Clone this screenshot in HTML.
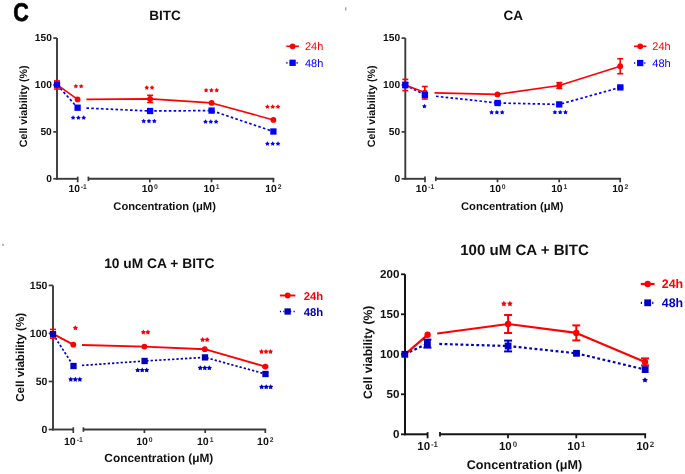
<!DOCTYPE html>
<html><head><meta charset="utf-8"><style>
html,body{margin:0;padding:0;background:#fff;width:685px;height:474px;overflow:hidden}
svg{display:block;filter:blur(0.45px);font-family:"Liberation Sans",sans-serif;text-rendering:geometricPrecision}
</style></head><body>
<svg width="685" height="474" viewBox="0 0 685 474">
<rect width="685" height="474" fill="#fff"/>
<text x="21.1" y="20.8" font-size="25.6" font-weight="bold" fill="#000" stroke="#000" stroke-width="0.7" text-anchor="middle" transform="translate(21.1 0) scale(0.84 1) translate(-21.1 0)">C</text>
<rect x="345.3" y="7.3" width="1" height="3.2" fill="#777"/>
<rect x="2.1" y="243.9" width="1.9" height="1.9" fill="#aaa"/>
<line x1="57.00" y1="38.10" x2="57.00" y2="179.75" stroke="#3a3a3a" stroke-width="1.90" />
<line x1="53.30" y1="178.80" x2="57.00" y2="178.80" stroke="#3a3a3a" stroke-width="1.71" />
<text x="51.80" y="181.70" font-size="10.20" font-weight="bold" fill="#111" text-anchor="end" >0</text>
<line x1="53.30" y1="131.90" x2="57.00" y2="131.90" stroke="#3a3a3a" stroke-width="1.71" />
<text x="51.80" y="134.80" font-size="10.20" font-weight="bold" fill="#111" text-anchor="end" >50</text>
<line x1="53.30" y1="85.00" x2="57.00" y2="85.00" stroke="#3a3a3a" stroke-width="1.71" />
<text x="51.80" y="87.90" font-size="10.20" font-weight="bold" fill="#111" text-anchor="end" >100</text>
<line x1="53.30" y1="38.10" x2="57.00" y2="38.10" stroke="#3a3a3a" stroke-width="1.71" />
<text x="51.80" y="41.00" font-size="10.20" font-weight="bold" fill="#111" text-anchor="end" >150</text>
<line x1="56.05" y1="178.80" x2="77.70" y2="178.80" stroke="#3a3a3a" stroke-width="1.90" />
<line x1="77.70" y1="176.60" x2="77.70" y2="182.30" stroke="#3a3a3a" stroke-width="1.71" />
<line x1="88.40" y1="178.80" x2="274.25" y2="178.80" stroke="#3a3a3a" stroke-width="1.90" />
<line x1="88.40" y1="176.60" x2="88.40" y2="181.10" stroke="#3a3a3a" stroke-width="1.71" />
<line x1="149.80" y1="178.80" x2="149.80" y2="182.30" stroke="#3a3a3a" stroke-width="1.71" />
<line x1="211.50" y1="178.80" x2="211.50" y2="182.30" stroke="#3a3a3a" stroke-width="1.71" />
<line x1="273.40" y1="178.80" x2="273.40" y2="182.30" stroke="#3a3a3a" stroke-width="1.71" />
<text x="77.70" y="191.80" font-size="10.30" font-weight="bold" fill="#111" text-anchor="middle">10<tspan dx="0.90" dy="-2.90" font-size="6.80" fill="#333">-1</tspan></text>
<text x="149.80" y="191.80" font-size="10.30" font-weight="bold" fill="#111" text-anchor="middle">10<tspan dx="0.90" dy="-2.90" font-size="6.80" fill="#333">0</tspan></text>
<text x="211.50" y="191.80" font-size="10.30" font-weight="bold" fill="#111" text-anchor="middle">10<tspan dx="0.90" dy="-2.90" font-size="6.80" fill="#333">1</tspan></text>
<text x="273.40" y="191.80" font-size="10.30" font-weight="bold" fill="#111" text-anchor="middle">10<tspan dx="0.90" dy="-2.90" font-size="6.80" fill="#333">2</tspan></text>
<text x="165.00" y="20.40" font-size="13.50" font-weight="bold" fill="#111" text-anchor="middle" >BITC</text>
<text x="0" y="0" font-size="10.70" font-weight="bold" fill="#111" text-anchor="middle" transform="translate(26.80 106.30) rotate(-90)">Cell viability (%)</text>
<text x="164.60" y="209.70" font-size="11.20" font-weight="bold" fill="#111" text-anchor="middle" >Concentration (&#956;M)</text>
<line x1="57.00" y1="84.70" x2="77.60" y2="107.70" stroke="#0000ff" stroke-width="1.70" stroke-dasharray="2.6 2.25"/>
<path d="M86.40 108.10 L150.10 111.00 L211.60 110.60 L273.40 131.50" fill="none" stroke="#0000ff" stroke-width="1.70" stroke-linejoin="round" stroke-dasharray="2.6 2.25"/>
<line x1="57.00" y1="84.70" x2="77.60" y2="99.40" stroke="#ff0000" stroke-width="1.60" />
<path d="M86.40 99.34 L150.10 98.90 L211.60 102.90 L273.40 119.90" fill="none" stroke="#ff0000" stroke-width="1.60" stroke-linejoin="round" />
<line x1="57.00" y1="80.90" x2="57.00" y2="89.00" stroke="#ff0000" stroke-width="1.60" />
<line x1="54.00" y1="80.90" x2="60.00" y2="80.90" stroke="#ff0000" stroke-width="1.60" />
<line x1="54.00" y1="89.00" x2="60.00" y2="89.00" stroke="#ff0000" stroke-width="1.60" />
<circle cx="57.00" cy="84.70" r="2.90" fill="#ff0000"/>
<circle cx="77.60" cy="99.40" r="2.90" fill="#ff0000"/>
<line x1="150.10" y1="95.30" x2="150.10" y2="102.50" stroke="#ff0000" stroke-width="1.60" />
<line x1="147.10" y1="95.30" x2="153.10" y2="95.30" stroke="#ff0000" stroke-width="1.60" />
<line x1="147.10" y1="102.50" x2="153.10" y2="102.50" stroke="#ff0000" stroke-width="1.60" />
<circle cx="150.10" cy="98.90" r="2.90" fill="#ff0000"/>
<circle cx="211.60" cy="102.90" r="2.90" fill="#ff0000"/>
<circle cx="273.40" cy="119.90" r="2.90" fill="#ff0000"/>
<rect x="53.85" y="81.55" width="6.30" height="6.30" fill="#0000ff"/>
<rect x="74.45" y="104.55" width="6.30" height="6.30" fill="#0000ff"/>
<rect x="146.95" y="107.85" width="6.30" height="6.30" fill="#0000ff"/>
<rect x="208.45" y="107.45" width="6.30" height="6.30" fill="#0000ff"/>
<rect x="270.25" y="128.35" width="6.30" height="6.30" fill="#0000ff"/>
<g fill="#ff0000"><polygon points="75.85,83.75 76.66,85.14 78.23,85.48 77.16,86.67 77.32,88.27 75.85,87.62 74.38,88.27 74.54,86.67 73.47,85.48 75.04,85.14"/><polygon points="81.15,83.75 81.96,85.14 83.53,85.48 82.46,86.67 82.62,88.27 81.15,87.62 79.68,88.27 79.84,86.67 78.77,85.48 80.34,85.14"/></g>
<g fill="#ff0000"><polygon points="146.75,85.15 147.56,86.54 149.13,86.88 148.06,88.07 148.22,89.67 146.75,89.03 145.28,89.67 145.44,88.07 144.37,86.88 145.94,86.54"/><polygon points="152.05,85.15 152.86,86.54 154.43,86.88 153.36,88.07 153.52,89.67 152.05,89.03 150.58,89.67 150.74,88.07 149.67,86.88 151.24,86.54"/></g>
<g fill="#ff0000"><polygon points="206.10,87.85 206.91,89.24 208.48,89.58 207.41,90.77 207.57,92.37 206.10,91.73 204.63,92.37 204.79,90.77 203.72,89.58 205.29,89.24"/><polygon points="211.40,87.85 212.21,89.24 213.78,89.58 212.71,90.77 212.87,92.37 211.40,91.73 209.93,92.37 210.09,90.77 209.02,89.58 210.59,89.24"/><polygon points="216.70,87.85 217.51,89.24 219.08,89.58 218.01,90.77 218.17,92.37 216.70,91.73 215.23,92.37 215.39,90.77 214.32,89.58 215.89,89.24"/></g>
<g fill="#ff0000"><polygon points="267.40,104.25 268.21,105.64 269.78,105.98 268.71,107.17 268.87,108.77 267.40,108.12 265.93,108.77 266.09,107.17 265.02,105.98 266.59,105.64"/><polygon points="272.70,104.25 273.51,105.64 275.08,105.98 274.01,107.17 274.17,108.77 272.70,108.12 271.23,108.77 271.39,107.17 270.32,105.98 271.89,105.64"/><polygon points="278.00,104.25 278.81,105.64 280.38,105.98 279.31,107.17 279.47,108.77 278.00,108.12 276.53,108.77 276.69,107.17 275.62,105.98 277.19,105.64"/></g>
<g fill="#0000ff"><polygon points="73.10,115.25 73.91,116.64 75.48,116.98 74.41,118.17 74.57,119.77 73.10,119.12 71.63,119.77 71.79,118.17 70.72,116.98 72.29,116.64"/><polygon points="78.40,115.25 79.21,116.64 80.78,116.98 79.71,118.17 79.87,119.77 78.40,119.12 76.93,119.77 77.09,118.17 76.02,116.98 77.59,116.64"/><polygon points="83.70,115.25 84.51,116.64 86.08,116.98 85.01,118.17 85.17,119.77 83.70,119.12 82.23,119.77 82.39,118.17 81.32,116.98 82.89,116.64"/></g>
<g fill="#0000ff"><polygon points="143.70,118.65 144.51,120.04 146.08,120.38 145.01,121.57 145.17,123.17 143.70,122.53 142.23,123.17 142.39,121.57 141.32,120.38 142.89,120.04"/><polygon points="149.00,118.65 149.81,120.04 151.38,120.38 150.31,121.57 150.47,123.17 149.00,122.53 147.53,123.17 147.69,121.57 146.62,120.38 148.19,120.04"/><polygon points="154.30,118.65 155.11,120.04 156.68,120.38 155.61,121.57 155.77,123.17 154.30,122.53 152.83,123.17 152.99,121.57 151.92,120.38 153.49,120.04"/></g>
<g fill="#0000ff"><polygon points="205.50,119.25 206.31,120.64 207.88,120.98 206.81,122.17 206.97,123.77 205.50,123.12 204.03,123.77 204.19,122.17 203.12,120.98 204.69,120.64"/><polygon points="210.80,119.25 211.61,120.64 213.18,120.98 212.11,122.17 212.27,123.77 210.80,123.12 209.33,123.77 209.49,122.17 208.42,120.98 209.99,120.64"/><polygon points="216.10,119.25 216.91,120.64 218.48,120.98 217.41,122.17 217.57,123.77 216.10,123.12 214.63,123.77 214.79,122.17 213.72,120.98 215.29,120.64"/></g>
<g fill="#0000ff"><polygon points="267.40,141.25 268.21,142.64 269.78,142.98 268.71,144.17 268.87,145.77 267.40,145.12 265.93,145.77 266.09,144.17 265.02,142.98 266.59,142.64"/><polygon points="272.70,141.25 273.51,142.64 275.08,142.98 274.01,144.17 274.17,145.77 272.70,145.12 271.23,145.77 271.39,144.17 270.32,142.98 271.89,142.64"/><polygon points="278.00,141.25 278.81,142.64 280.38,142.98 279.31,144.17 279.47,145.77 278.00,145.12 276.53,145.77 276.69,144.17 275.62,142.98 277.19,142.64"/></g>
<line x1="286.30" y1="46.30" x2="298.90" y2="46.30" stroke="#ff0000" stroke-width="1.60" />
<circle cx="292.60" cy="46.30" r="2.90" fill="#ff0000"/>
<text x="305.00" y="50.30" font-size="11.00" font-weight="normal" fill="#ff0000" text-anchor="start" >24h</text>
<line x1="286.30" y1="62.80" x2="298.90" y2="62.80" stroke="#0000ff" stroke-width="1.70" stroke-dasharray="1.2 2.2"/>
<rect x="289.45" y="59.65" width="6.30" height="6.30" fill="#0000ff"/>
<text x="305.00" y="66.80" font-size="11.00" font-weight="normal" fill="#0000ff" text-anchor="start" >48h</text>
<line x1="405.30" y1="38.10" x2="405.30" y2="179.75" stroke="#3a3a3a" stroke-width="1.90" />
<line x1="401.60" y1="178.80" x2="405.30" y2="178.80" stroke="#3a3a3a" stroke-width="1.71" />
<text x="400.10" y="181.70" font-size="10.20" font-weight="bold" fill="#111" text-anchor="end" >0</text>
<line x1="401.60" y1="131.90" x2="405.30" y2="131.90" stroke="#3a3a3a" stroke-width="1.71" />
<text x="400.10" y="134.80" font-size="10.20" font-weight="bold" fill="#111" text-anchor="end" >50</text>
<line x1="401.60" y1="85.00" x2="405.30" y2="85.00" stroke="#3a3a3a" stroke-width="1.71" />
<text x="400.10" y="87.90" font-size="10.20" font-weight="bold" fill="#111" text-anchor="end" >100</text>
<line x1="401.60" y1="38.10" x2="405.30" y2="38.10" stroke="#3a3a3a" stroke-width="1.71" />
<text x="400.10" y="41.00" font-size="10.20" font-weight="bold" fill="#111" text-anchor="end" >150</text>
<line x1="404.35" y1="178.80" x2="425.00" y2="178.80" stroke="#3a3a3a" stroke-width="1.90" />
<line x1="425.00" y1="176.60" x2="425.00" y2="182.30" stroke="#3a3a3a" stroke-width="1.71" />
<line x1="435.80" y1="178.80" x2="621.06" y2="178.80" stroke="#3a3a3a" stroke-width="1.90" />
<line x1="435.80" y1="176.60" x2="435.80" y2="181.10" stroke="#3a3a3a" stroke-width="1.71" />
<line x1="497.50" y1="178.80" x2="497.50" y2="182.30" stroke="#3a3a3a" stroke-width="1.71" />
<line x1="559.20" y1="178.80" x2="559.20" y2="182.30" stroke="#3a3a3a" stroke-width="1.71" />
<line x1="620.20" y1="178.80" x2="620.20" y2="182.30" stroke="#3a3a3a" stroke-width="1.71" />
<text x="425.00" y="191.80" font-size="10.30" font-weight="bold" fill="#111" text-anchor="middle">10<tspan dx="0.90" dy="-2.90" font-size="6.80" fill="#333">-1</tspan></text>
<text x="497.50" y="191.80" font-size="10.30" font-weight="bold" fill="#111" text-anchor="middle">10<tspan dx="0.90" dy="-2.90" font-size="6.80" fill="#333">0</tspan></text>
<text x="559.20" y="191.80" font-size="10.30" font-weight="bold" fill="#111" text-anchor="middle">10<tspan dx="0.90" dy="-2.90" font-size="6.80" fill="#333">1</tspan></text>
<text x="620.20" y="191.80" font-size="10.30" font-weight="bold" fill="#111" text-anchor="middle">10<tspan dx="0.90" dy="-2.90" font-size="6.80" fill="#333">2</tspan></text>
<text x="513.20" y="20.40" font-size="13.50" font-weight="bold" fill="#111" text-anchor="middle" >CA</text>
<text x="0" y="0" font-size="10.70" font-weight="bold" fill="#111" text-anchor="middle" transform="translate(375.10 106.30) rotate(-90)">Cell viability (%)</text>
<text x="512.30" y="209.70" font-size="11.20" font-weight="bold" fill="#111" text-anchor="middle" >Concentration (&#956;M)</text>
<line x1="405.30" y1="85.00" x2="424.90" y2="95.00" stroke="#0000ff" stroke-width="1.70" stroke-dasharray="2.6 2.25"/>
<path d="M436.00 96.22 L497.60 103.00 L559.20 104.40 L620.30 87.40" fill="none" stroke="#0000ff" stroke-width="1.70" stroke-linejoin="round" stroke-dasharray="2.6 2.25"/>
<line x1="405.30" y1="85.00" x2="424.80" y2="92.60" stroke="#ff0000" stroke-width="1.60" />
<path d="M434.50 92.84 L497.40 94.40 L559.30 85.50 L620.20 66.20" fill="none" stroke="#ff0000" stroke-width="1.60" stroke-linejoin="round" />
<line x1="405.30" y1="79.40" x2="405.30" y2="90.60" stroke="#ff0000" stroke-width="1.60" />
<line x1="402.30" y1="79.40" x2="408.30" y2="79.40" stroke="#ff0000" stroke-width="1.60" />
<line x1="402.30" y1="90.60" x2="408.30" y2="90.60" stroke="#ff0000" stroke-width="1.60" />
<circle cx="405.30" cy="85.00" r="2.90" fill="#ff0000"/>
<line x1="424.80" y1="86.50" x2="424.80" y2="99.00" stroke="#ff0000" stroke-width="1.60" />
<line x1="421.80" y1="86.50" x2="427.80" y2="86.50" stroke="#ff0000" stroke-width="1.60" />
<line x1="421.80" y1="99.00" x2="427.80" y2="99.00" stroke="#ff0000" stroke-width="1.60" />
<circle cx="424.80" cy="92.60" r="2.90" fill="#ff0000"/>
<circle cx="497.40" cy="94.40" r="2.90" fill="#ff0000"/>
<line x1="559.30" y1="82.60" x2="559.30" y2="88.40" stroke="#ff0000" stroke-width="1.60" />
<line x1="556.30" y1="82.60" x2="562.30" y2="82.60" stroke="#ff0000" stroke-width="1.60" />
<line x1="556.30" y1="88.40" x2="562.30" y2="88.40" stroke="#ff0000" stroke-width="1.60" />
<circle cx="559.30" cy="85.50" r="2.90" fill="#ff0000"/>
<line x1="620.20" y1="58.70" x2="620.20" y2="73.70" stroke="#ff0000" stroke-width="1.60" />
<line x1="617.20" y1="58.70" x2="623.20" y2="58.70" stroke="#ff0000" stroke-width="1.60" />
<line x1="617.20" y1="73.70" x2="623.20" y2="73.70" stroke="#ff0000" stroke-width="1.60" />
<circle cx="620.20" cy="66.20" r="2.90" fill="#ff0000"/>
<line x1="405.30" y1="82.50" x2="405.30" y2="87.50" stroke="#0000ff" stroke-width="1.60" />
<line x1="402.30" y1="82.50" x2="408.30" y2="82.50" stroke="#0000ff" stroke-width="1.60" />
<line x1="402.30" y1="87.50" x2="408.30" y2="87.50" stroke="#0000ff" stroke-width="1.60" />
<rect x="402.15" y="81.85" width="6.30" height="6.30" fill="#0000ff"/>
<line x1="424.90" y1="94.00" x2="424.90" y2="96.00" stroke="#0000ff" stroke-width="1.60" />
<line x1="421.90" y1="94.00" x2="427.90" y2="94.00" stroke="#0000ff" stroke-width="1.60" />
<line x1="421.90" y1="96.00" x2="427.90" y2="96.00" stroke="#0000ff" stroke-width="1.60" />
<rect x="421.75" y="91.85" width="6.30" height="6.30" fill="#0000ff"/>
<line x1="497.60" y1="102.00" x2="497.60" y2="104.00" stroke="#0000ff" stroke-width="1.60" />
<line x1="494.60" y1="102.00" x2="500.60" y2="102.00" stroke="#0000ff" stroke-width="1.60" />
<line x1="494.60" y1="104.00" x2="500.60" y2="104.00" stroke="#0000ff" stroke-width="1.60" />
<rect x="494.45" y="99.85" width="6.30" height="6.30" fill="#0000ff"/>
<rect x="556.05" y="101.25" width="6.30" height="6.30" fill="#0000ff"/>
<line x1="620.30" y1="86.40" x2="620.30" y2="88.40" stroke="#0000ff" stroke-width="1.60" />
<line x1="617.30" y1="86.40" x2="623.30" y2="86.40" stroke="#0000ff" stroke-width="1.60" />
<line x1="617.30" y1="88.40" x2="623.30" y2="88.40" stroke="#0000ff" stroke-width="1.60" />
<rect x="617.15" y="84.25" width="6.30" height="6.30" fill="#0000ff"/>
<g fill="#0000ff"><polygon points="424.40,103.85 425.21,105.24 426.78,105.58 425.71,106.77 425.87,108.37 424.40,107.73 422.93,108.37 423.09,106.77 422.02,105.58 423.59,105.24"/></g>
<g fill="#0000ff"><polygon points="491.60,109.95 492.41,111.34 493.98,111.68 492.91,112.87 493.07,114.47 491.60,113.83 490.13,114.47 490.29,112.87 489.22,111.68 490.79,111.34"/><polygon points="496.90,109.95 497.71,111.34 499.28,111.68 498.21,112.87 498.37,114.47 496.90,113.83 495.43,114.47 495.59,112.87 494.52,111.68 496.09,111.34"/><polygon points="502.20,109.95 503.01,111.34 504.58,111.68 503.51,112.87 503.67,114.47 502.20,113.83 500.73,114.47 500.89,112.87 499.82,111.68 501.39,111.34"/></g>
<g fill="#0000ff"><polygon points="554.90,109.85 555.71,111.24 557.28,111.58 556.21,112.77 556.37,114.37 554.90,113.73 553.43,114.37 553.59,112.77 552.52,111.58 554.09,111.24"/><polygon points="560.20,109.85 561.01,111.24 562.58,111.58 561.51,112.77 561.67,114.37 560.20,113.73 558.73,114.37 558.89,112.77 557.82,111.58 559.39,111.24"/><polygon points="565.50,109.85 566.31,111.24 567.88,111.58 566.81,112.77 566.97,114.37 565.50,113.73 564.03,114.37 564.19,112.77 563.12,111.58 564.69,111.24"/></g>
<line x1="634.00" y1="46.30" x2="646.40" y2="46.30" stroke="#ff0000" stroke-width="1.60" />
<circle cx="640.20" cy="46.30" r="2.90" fill="#ff0000"/>
<text x="652.30" y="50.30" font-size="11.00" font-weight="normal" fill="#ff0000" text-anchor="start" >24h</text>
<line x1="634.00" y1="63.00" x2="646.40" y2="63.00" stroke="#0000ff" stroke-width="1.70" stroke-dasharray="1.2 2.2"/>
<rect x="637.05" y="59.85" width="6.30" height="6.30" fill="#0000ff"/>
<text x="652.30" y="67.00" font-size="11.00" font-weight="normal" fill="#0000ff" text-anchor="start" >48h</text>
<line x1="53.00" y1="285.40" x2="53.00" y2="430.45" stroke="#3a3a3a" stroke-width="1.90" />
<line x1="48.70" y1="429.50" x2="53.00" y2="429.50" stroke="#3a3a3a" stroke-width="1.71" />
<text x="47.40" y="432.80" font-size="10.50" font-weight="bold" fill="#111" text-anchor="end" >0</text>
<line x1="48.70" y1="381.47" x2="53.00" y2="381.47" stroke="#3a3a3a" stroke-width="1.71" />
<text x="47.40" y="384.77" font-size="10.50" font-weight="bold" fill="#111" text-anchor="end" >50</text>
<line x1="48.70" y1="333.43" x2="53.00" y2="333.43" stroke="#3a3a3a" stroke-width="1.71" />
<text x="47.40" y="336.73" font-size="10.50" font-weight="bold" fill="#111" text-anchor="end" >100</text>
<line x1="48.70" y1="285.40" x2="53.00" y2="285.40" stroke="#3a3a3a" stroke-width="1.71" />
<text x="47.40" y="288.70" font-size="10.50" font-weight="bold" fill="#111" text-anchor="end" >150</text>
<line x1="52.05" y1="429.50" x2="73.30" y2="429.50" stroke="#3a3a3a" stroke-width="1.90" />
<line x1="73.30" y1="427.30" x2="73.30" y2="433.00" stroke="#3a3a3a" stroke-width="1.71" />
<line x1="83.40" y1="429.50" x2="266.16" y2="429.50" stroke="#3a3a3a" stroke-width="1.90" />
<line x1="83.40" y1="427.30" x2="83.40" y2="431.80" stroke="#3a3a3a" stroke-width="1.71" />
<line x1="144.40" y1="429.50" x2="144.40" y2="433.00" stroke="#3a3a3a" stroke-width="1.71" />
<line x1="205.20" y1="429.50" x2="205.20" y2="433.00" stroke="#3a3a3a" stroke-width="1.71" />
<line x1="265.30" y1="429.50" x2="265.30" y2="433.00" stroke="#3a3a3a" stroke-width="1.71" />
<text x="73.30" y="444.70" font-size="10.60" font-weight="bold" fill="#111" text-anchor="middle">10<tspan dx="0.90" dy="-2.90" font-size="6.80" fill="#333">-1</tspan></text>
<text x="144.40" y="444.70" font-size="10.60" font-weight="bold" fill="#111" text-anchor="middle">10<tspan dx="0.90" dy="-2.90" font-size="6.80" fill="#333">0</tspan></text>
<text x="205.20" y="444.70" font-size="10.60" font-weight="bold" fill="#111" text-anchor="middle">10<tspan dx="0.90" dy="-2.90" font-size="6.80" fill="#333">1</tspan></text>
<text x="265.30" y="444.70" font-size="10.60" font-weight="bold" fill="#111" text-anchor="middle">10<tspan dx="0.90" dy="-2.90" font-size="6.80" fill="#333">2</tspan></text>
<text x="159.30" y="268.10" font-size="13.80" font-weight="bold" fill="#111" text-anchor="middle" >10 uM CA + BITC</text>
<text x="0" y="0" font-size="11.60" font-weight="bold" fill="#111" text-anchor="middle" transform="translate(23.60 357.30) rotate(-90)">Cell viability (%)</text>
<text x="158.80" y="462.40" font-size="11.90" font-weight="bold" fill="#111" text-anchor="middle" >Concentration (&#956;M)</text>
<line x1="53.00" y1="334.20" x2="73.50" y2="366.00" stroke="#0000c0" stroke-width="1.70" stroke-dasharray="2.3 2.0"/>
<path d="M82.00 365.40 L144.60 361.00 L205.00 357.40 L265.50 374.00" fill="none" stroke="#0000c0" stroke-width="1.70" stroke-linejoin="round" stroke-dasharray="2.3 2.0"/>
<line x1="53.00" y1="333.80" x2="73.30" y2="344.70" stroke="#ff0000" stroke-width="1.90" />
<path d="M82.00 344.93 L144.40 346.60 L204.80 349.20 L265.30 366.60" fill="none" stroke="#ff0000" stroke-width="1.90" stroke-linejoin="round" />
<line x1="53.00" y1="329.40" x2="53.00" y2="338.20" stroke="#ff0000" stroke-width="1.60" />
<line x1="50.00" y1="329.40" x2="56.00" y2="329.40" stroke="#ff0000" stroke-width="1.60" />
<line x1="50.00" y1="338.20" x2="56.00" y2="338.20" stroke="#ff0000" stroke-width="1.60" />
<circle cx="53.00" cy="333.80" r="2.90" fill="#ff0000"/>
<circle cx="73.30" cy="344.70" r="2.90" fill="#ff0000"/>
<circle cx="144.40" cy="346.60" r="2.90" fill="#ff0000"/>
<circle cx="204.80" cy="349.20" r="2.90" fill="#ff0000"/>
<line x1="265.30" y1="365.80" x2="265.30" y2="367.40" stroke="#ff0000" stroke-width="1.60" />
<line x1="262.30" y1="365.80" x2="268.30" y2="365.80" stroke="#ff0000" stroke-width="1.60" />
<line x1="262.30" y1="367.40" x2="268.30" y2="367.40" stroke="#ff0000" stroke-width="1.60" />
<circle cx="265.30" cy="366.60" r="2.90" fill="#ff0000"/>
<line x1="53.00" y1="333.40" x2="53.00" y2="335.00" stroke="#0000c0" stroke-width="1.60" />
<line x1="50.00" y1="333.40" x2="56.00" y2="333.40" stroke="#0000c0" stroke-width="1.60" />
<line x1="50.00" y1="335.00" x2="56.00" y2="335.00" stroke="#0000c0" stroke-width="1.60" />
<rect x="49.85" y="331.05" width="6.30" height="6.30" fill="#0000c0"/>
<rect x="70.35" y="362.85" width="6.30" height="6.30" fill="#0000c0"/>
<rect x="141.45" y="357.85" width="6.30" height="6.30" fill="#0000c0"/>
<rect x="201.85" y="354.25" width="6.30" height="6.30" fill="#0000c0"/>
<rect x="262.35" y="370.85" width="6.30" height="6.30" fill="#0000c0"/>
<g fill="#ff0000"><polygon points="75.40,325.20 76.29,326.73 78.02,327.10 76.84,328.42 77.02,330.17 75.40,329.46 73.78,330.17 73.96,328.42 72.78,327.10 74.51,326.73"/></g>
<g fill="#ff0000"><polygon points="143.35,329.50 144.24,331.03 145.97,331.40 144.79,332.72 144.97,334.47 143.35,333.76 141.73,334.47 141.91,332.72 140.73,331.40 142.46,331.03"/><polygon points="147.85,329.50 148.74,331.03 150.47,331.40 149.29,332.72 149.47,334.47 147.85,333.76 146.23,334.47 146.41,332.72 145.23,331.40 146.96,331.03"/></g>
<g fill="#ff0000"><polygon points="202.65,337.00 203.54,338.53 205.27,338.90 204.09,340.22 204.27,341.97 202.65,341.26 201.03,341.97 201.21,340.22 200.03,338.90 201.76,338.53"/><polygon points="207.15,337.00 208.04,338.53 209.77,338.90 208.59,340.22 208.77,341.97 207.15,341.26 205.53,341.97 205.71,340.22 204.53,338.90 206.26,338.53"/></g>
<g fill="#ff0000"><polygon points="261.50,348.90 262.39,350.43 264.12,350.80 262.94,352.12 263.12,353.87 261.50,353.16 259.88,353.87 260.06,352.12 258.88,350.80 260.61,350.43"/><polygon points="266.00,348.90 266.89,350.43 268.62,350.80 267.44,352.12 267.62,353.87 266.00,353.16 264.38,353.87 264.56,352.12 263.38,350.80 265.11,350.43"/><polygon points="270.50,348.90 271.39,350.43 273.12,350.80 271.94,352.12 272.12,353.87 270.50,353.16 268.88,353.87 269.06,352.12 267.88,350.80 269.61,350.43"/></g>
<g fill="#0000c0"><polygon points="70.80,376.70 71.69,378.23 73.42,378.60 72.24,379.92 72.42,381.67 70.80,380.96 69.18,381.67 69.36,379.92 68.18,378.60 69.91,378.23"/><polygon points="75.30,376.70 76.19,378.23 77.92,378.60 76.74,379.92 76.92,381.67 75.30,380.96 73.68,381.67 73.86,379.92 72.68,378.60 74.41,378.23"/><polygon points="79.80,376.70 80.69,378.23 82.42,378.60 81.24,379.92 81.42,381.67 79.80,380.96 78.18,381.67 78.36,379.92 77.18,378.60 78.91,378.23"/></g>
<g fill="#0000c0"><polygon points="137.70,367.40 138.59,368.93 140.32,369.30 139.14,370.62 139.32,372.37 137.70,371.66 136.08,372.37 136.26,370.62 135.08,369.30 136.81,368.93"/><polygon points="142.20,367.40 143.09,368.93 144.82,369.30 143.64,370.62 143.82,372.37 142.20,371.66 140.58,372.37 140.76,370.62 139.58,369.30 141.31,368.93"/><polygon points="146.70,367.40 147.59,368.93 149.32,369.30 148.14,370.62 148.32,372.37 146.70,371.66 145.08,372.37 145.26,370.62 144.08,369.30 145.81,368.93"/></g>
<g fill="#0000c0"><polygon points="200.30,365.20 201.19,366.73 202.92,367.10 201.74,368.42 201.92,370.17 200.30,369.46 198.68,370.17 198.86,368.42 197.68,367.10 199.41,366.73"/><polygon points="204.80,365.20 205.69,366.73 207.42,367.10 206.24,368.42 206.42,370.17 204.80,369.46 203.18,370.17 203.36,368.42 202.18,367.10 203.91,366.73"/><polygon points="209.30,365.20 210.19,366.73 211.92,367.10 210.74,368.42 210.92,370.17 209.30,369.46 207.68,370.17 207.86,368.42 206.68,367.10 208.41,366.73"/></g>
<g fill="#0000c0"><polygon points="261.70,384.20 262.59,385.73 264.32,386.10 263.14,387.42 263.32,389.17 261.70,388.46 260.08,389.17 260.26,387.42 259.08,386.10 260.81,385.73"/><polygon points="266.20,384.20 267.09,385.73 268.82,386.10 267.64,387.42 267.82,389.17 266.20,388.46 264.58,389.17 264.76,387.42 263.58,386.10 265.31,385.73"/><polygon points="270.70,384.20 271.59,385.73 273.32,386.10 272.14,387.42 272.32,389.17 270.70,388.46 269.08,389.17 269.26,387.42 268.08,386.10 269.81,385.73"/></g>
<line x1="279.90" y1="295.50" x2="295.40" y2="295.50" stroke="#ff0000" stroke-width="1.90" />
<circle cx="287.65" cy="295.50" r="2.90" fill="#ff0000"/>
<text x="303.80" y="299.50" font-size="11.30" font-weight="bold" fill="#ff0000" text-anchor="start" >24h</text>
<line x1="279.90" y1="311.50" x2="295.40" y2="311.50" stroke="#0000c0" stroke-width="1.70" stroke-dasharray="1.2 2.2"/>
<rect x="284.50" y="308.35" width="6.30" height="6.30" fill="#0000c0"/>
<text x="303.80" y="315.50" font-size="11.30" font-weight="bold" fill="#0000c0" text-anchor="start" >48h</text>
<line x1="405.00" y1="274.30" x2="405.00" y2="435.30" stroke="#141414" stroke-width="2.00" />
<line x1="401.00" y1="434.30" x2="405.00" y2="434.30" stroke="#141414" stroke-width="1.80" />
<text x="399.40" y="437.90" font-size="11.60" font-weight="bold" fill="#111" text-anchor="end" >0</text>
<line x1="401.00" y1="394.30" x2="405.00" y2="394.30" stroke="#141414" stroke-width="1.80" />
<text x="399.40" y="397.90" font-size="11.60" font-weight="bold" fill="#111" text-anchor="end" >50</text>
<line x1="401.00" y1="354.30" x2="405.00" y2="354.30" stroke="#141414" stroke-width="1.80" />
<text x="399.40" y="357.90" font-size="11.60" font-weight="bold" fill="#111" text-anchor="end" >100</text>
<line x1="401.00" y1="314.30" x2="405.00" y2="314.30" stroke="#141414" stroke-width="1.80" />
<text x="399.40" y="317.90" font-size="11.60" font-weight="bold" fill="#111" text-anchor="end" >150</text>
<line x1="401.00" y1="274.30" x2="405.00" y2="274.30" stroke="#141414" stroke-width="1.80" />
<text x="399.40" y="277.90" font-size="11.60" font-weight="bold" fill="#111" text-anchor="end" >200</text>
<line x1="404.00" y1="434.30" x2="427.60" y2="434.30" stroke="#141414" stroke-width="2.00" />
<line x1="427.60" y1="432.10" x2="427.60" y2="438.30" stroke="#141414" stroke-width="1.80" />
<line x1="440.00" y1="434.30" x2="646.10" y2="434.30" stroke="#141414" stroke-width="2.00" />
<line x1="440.00" y1="432.10" x2="440.00" y2="436.60" stroke="#141414" stroke-width="1.80" />
<line x1="508.00" y1="434.30" x2="508.00" y2="438.30" stroke="#141414" stroke-width="1.80" />
<line x1="576.30" y1="434.30" x2="576.30" y2="438.30" stroke="#141414" stroke-width="1.80" />
<line x1="645.20" y1="434.30" x2="645.20" y2="438.30" stroke="#141414" stroke-width="1.80" />
<text x="427.60" y="449.50" font-size="11.50" font-weight="bold" fill="#111" text-anchor="middle">10<tspan dx="0.90" dy="-3.00" font-size="7.90" fill="#333">-1</tspan></text>
<text x="508.00" y="449.50" font-size="11.50" font-weight="bold" fill="#111" text-anchor="middle">10<tspan dx="0.90" dy="-3.00" font-size="7.90" fill="#333">0</tspan></text>
<text x="576.30" y="449.50" font-size="11.50" font-weight="bold" fill="#111" text-anchor="middle">10<tspan dx="0.90" dy="-3.00" font-size="7.90" fill="#333">1</tspan></text>
<text x="645.20" y="449.50" font-size="11.50" font-weight="bold" fill="#111" text-anchor="middle">10<tspan dx="0.90" dy="-3.00" font-size="7.90" fill="#333">2</tspan></text>
<text x="524.50" y="254.50" font-size="15.05" font-weight="bold" fill="#111" text-anchor="middle" >100 uM CA + BITC</text>
<text x="0" y="0" font-size="12.20" font-weight="bold" fill="#111" text-anchor="middle" transform="translate(372.00 352.30) rotate(-90)">Cell viability (%)</text>
<text x="524.50" y="469.30" font-size="12.60" font-weight="bold" fill="#111" text-anchor="middle" >Concentration (&#956;M)</text>
<line x1="404.80" y1="354.30" x2="427.40" y2="343.60" stroke="#0000c0" stroke-width="2.20" stroke-dasharray="2.8 2.5"/>
<path d="M439.30 343.95 L508.10 346.00 L576.50 353.30 L645.20 369.60" fill="none" stroke="#0000c0" stroke-width="2.20" stroke-linejoin="round" stroke-dasharray="2.8 2.5"/>
<line x1="405.00" y1="354.30" x2="427.60" y2="334.80" stroke="#ff0000" stroke-width="2.20" />
<path d="M437.20 333.51 L508.10 324.00 L576.30 332.90 L645.00 361.90" fill="none" stroke="#ff0000" stroke-width="2.20" stroke-linejoin="round" />
<circle cx="405.00" cy="354.30" r="3.20" fill="#ff0000"/>
<circle cx="427.60" cy="334.80" r="3.20" fill="#ff0000"/>
<line x1="508.10" y1="315.00" x2="508.10" y2="333.00" stroke="#ff0000" stroke-width="2.00" />
<line x1="504.10" y1="315.00" x2="512.10" y2="315.00" stroke="#ff0000" stroke-width="2.00" />
<line x1="504.10" y1="333.00" x2="512.10" y2="333.00" stroke="#ff0000" stroke-width="2.00" />
<circle cx="508.10" cy="324.00" r="3.20" fill="#ff0000"/>
<line x1="576.30" y1="325.40" x2="576.30" y2="340.40" stroke="#ff0000" stroke-width="2.00" />
<line x1="572.30" y1="325.40" x2="580.30" y2="325.40" stroke="#ff0000" stroke-width="2.00" />
<line x1="572.30" y1="340.40" x2="580.30" y2="340.40" stroke="#ff0000" stroke-width="2.00" />
<circle cx="576.30" cy="332.90" r="3.20" fill="#ff0000"/>
<line x1="645.00" y1="358.40" x2="645.00" y2="365.40" stroke="#ff0000" stroke-width="2.00" />
<line x1="641.00" y1="358.40" x2="649.00" y2="358.40" stroke="#ff0000" stroke-width="2.00" />
<line x1="641.00" y1="365.40" x2="649.00" y2="365.40" stroke="#ff0000" stroke-width="2.00" />
<circle cx="645.00" cy="361.90" r="3.20" fill="#ff0000"/>
<rect x="401.40" y="350.90" width="6.80" height="6.80" fill="#0000c0"/>
<line x1="427.40" y1="339.60" x2="427.40" y2="347.60" stroke="#0000c0" stroke-width="2.00" />
<line x1="423.40" y1="339.60" x2="431.40" y2="339.60" stroke="#0000c0" stroke-width="2.00" />
<line x1="423.40" y1="347.60" x2="431.40" y2="347.60" stroke="#0000c0" stroke-width="2.00" />
<rect x="424.00" y="340.20" width="6.80" height="6.80" fill="#0000c0"/>
<line x1="508.10" y1="340.60" x2="508.10" y2="351.40" stroke="#0000c0" stroke-width="2.00" />
<line x1="504.10" y1="340.60" x2="512.10" y2="340.60" stroke="#0000c0" stroke-width="2.00" />
<line x1="504.10" y1="351.40" x2="512.10" y2="351.40" stroke="#0000c0" stroke-width="2.00" />
<rect x="504.70" y="342.60" width="6.80" height="6.80" fill="#0000c0"/>
<rect x="573.10" y="349.90" width="6.80" height="6.80" fill="#0000c0"/>
<rect x="641.80" y="366.20" width="6.80" height="6.80" fill="#0000c0"/>
<g fill="#ff0000"><polygon points="503.90,300.75 504.87,302.42 506.75,302.82 505.47,304.26 505.66,306.18 503.90,305.40 502.14,306.18 502.33,304.26 501.05,302.82 502.93,302.42"/><polygon points="509.90,300.75 510.87,302.42 512.75,302.82 511.47,304.26 511.66,306.18 509.90,305.40 508.14,306.18 508.33,304.26 507.05,302.82 508.93,302.42"/></g>
<g fill="#0000c0"><polygon points="645.00,377.15 645.97,378.82 647.85,379.22 646.57,380.66 646.76,382.58 645.00,381.80 643.24,382.58 643.43,380.66 642.15,379.22 644.03,378.82"/></g>
<line x1="640.80" y1="284.00" x2="654.60" y2="284.00" stroke="#ff0000" stroke-width="2.20" />
<circle cx="647.70" cy="284.00" r="3.20" fill="#ff0000"/>
<text x="661.80" y="288.40" font-size="12.40" font-weight="bold" fill="#ff0000" text-anchor="start" >24h</text>
<line x1="640.80" y1="302.80" x2="654.60" y2="302.80" stroke="#0000c0" stroke-width="2.20" stroke-dasharray="1.2 2.6"/>
<rect x="644.30" y="299.40" width="6.80" height="6.80" fill="#0000c0"/>
<text x="661.80" y="307.20" font-size="12.40" font-weight="bold" fill="#0000c0" text-anchor="start" >48h</text>
</svg></body></html>
